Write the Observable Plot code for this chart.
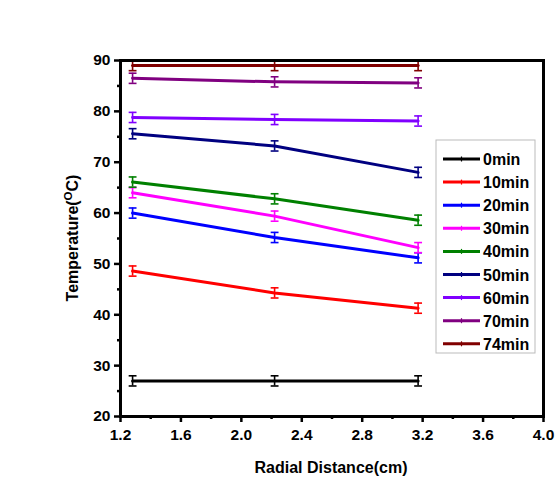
<!DOCTYPE html>
<html>
<head>
<meta charset="utf-8">
<script src="https://cdn.jsdelivr.net/npm/d3@7"></script>
<script src="https://cdn.jsdelivr.net/npm/@observablehq/plot@0.6"></script>
<style>
  html, body { margin: 0; padding: 0; background: #fff; }
  #chart { position: relative; width: 557px; height: 481px; }
  svg { font-family: "Liberation Sans", Arial, sans-serif; }
</style>
</head>
<body>
<div id="chart"></div>
<script>
// Radial positions (cm)
const distances = [1.28, 2.22, 3.17];
// Series names
const seriesNames = ["0min", "10min", "20min", "30min", "40min", "50min", "60min", "70min", "74min"];
const seriesColors = ["#000000", "#ff0000", "#0000ff", "#ff00ff", "#008000", "#000080", "#8000ff", "#800080", "#800000"];
// Temperature values (°C) per series at each distance
const t0min  = [27.0, 27.0, 27.0];
const t10min = [48.6, 44.3, 41.3];
const t20min = [60.0, 55.2, 51.2];
const t30min = [64.0, 59.4, 53.2];
const t40min = [66.1, 62.8, 58.6];
const t50min = [75.6, 73.2, 68.0];
const t60min = [78.8, 78.4, 78.1];
const t70min = [86.5, 85.8, 85.6];
const t74min = [89.0, 89.0, 89.0];
// Error (±°C)
const errors = [1.0, 1.0, 1.0];
const xTicks = [1.2, 1.6, 2.0, 2.4, 2.8, 3.2, 3.6, 4.0];
const xMinorTicks = [1.4, 1.8, 2.2, 2.6, 3.0, 3.4, 3.8];
const yTicks = [20, 30, 40, 50, 60, 70, 80, 90];
const yMinorTicks = [25, 35, 45, 55, 65, 75, 85];

const seriesValues = [t0min, t10min, t20min, t30min, t40min, t50min, t60min, t70min, t74min];
const data = [];
seriesNames.forEach((s, i) => {
  distances.forEach((d, j) => {
    data.push({series: s, x: d, y: seriesValues[i][j], e: errors[j]});
  });
});

const capHalf = 0.026;
const W = 557, H = 481;
const plot = Plot.plot({
  width: W,
  height: H,
  marginLeft: 120,
  marginRight: 14,
  marginTop: 60,
  marginBottom: 65,
  style: {fontFamily: "Liberation Sans, Arial, sans-serif", background: "transparent"},
  x: {domain: [1.2, 4.0]},
  y: {domain: [20, 90]},
  color: {domain: seriesNames, range: seriesColors},
  marks: [
    Plot.line(data, {x: "x", y: "y", z: "series", stroke: "series", strokeWidth: 3}),
    Plot.ruleX(data, {x: "x", y1: d => d.y - d.e, y2: d => d.y + d.e, stroke: "series", strokeWidth: 1.6}),
    Plot.link(data, {x1: d => d.x - capHalf, x2: d => d.x + capHalf, y1: d => d.y + d.e, y2: d => d.y + d.e, stroke: "series", strokeWidth: 1.6}),
    Plot.link(data, {x1: d => d.x - capHalf, x2: d => d.x + capHalf, y1: d => d.y - d.e, y2: d => d.y - d.e, stroke: "series", strokeWidth: 1.6}),
    Plot.axisX({ticks: xMinorTicks, tickSize: 3, text: null, strokeWidth: 2.5, label: null}),
    Plot.axisY({ticks: yMinorTicks, tickSize: 3, text: null, strokeWidth: 2.5, label: null}),
    Plot.axisX({ticks: xTicks, tickSize: 6, tickPadding: 6, strokeWidth: 2.5, tickFormat: d3.format(".1f"), fontSize: 15.5, fontWeight: "bold", fill: "#000", label: null}),
    Plot.axisY({ticks: yTicks, tickSize: 6, tickPadding: 4, strokeWidth: 2.5, fontSize: 15.5, fontWeight: "bold", fill: "#000", label: null}),
    Plot.frame({stroke: "#000", strokeWidth: 3})
  ]
});
document.getElementById("chart").appendChild(plot);

const svg = d3.select(plot);
// enforce tick label font
svg.selectAll('g[aria-label="x-axis tick label"], g[aria-label="y-axis tick label"]')
  .attr("font-size", 15.5).attr("font-weight", "bold").attr("fill", "#000")
  .selectAll("text").attr("font-size", 15.5).attr("font-weight", "bold");
const pLeft = 120, pRight = W - 14, pTop = 60, pBottom = H - 65;

// Axis titles
svg.append("text")
  .attr("x", 331)
  .attr("y", 473)
  .attr("text-anchor", "middle")
  .attr("font-size", 16)
  .attr("font-weight", "bold")
  .attr("fill", "#000")
  .text("Radial Distance(cm)");

const yl = svg.append("text")
  .attr("transform", `translate(78,${(pTop + pBottom) / 2}) rotate(-90)`)
  .attr("text-anchor", "middle")
  .attr("font-size", 16)
  .attr("font-weight", "bold")
  .attr("fill", "#000");
yl.append("tspan").text("Temperature(");
yl.append("tspan").attr("dy", -6).attr("font-size", 11.5).text("O");
yl.append("tspan").attr("dy", 6).text("C)");

// Legend
const lg = svg.append("g").attr("text-anchor", "start");
const lx = 436, ly = 140, lw = 99, lh = 213, rowH = 23.1;
lg.append("rect").attr("x", lx).attr("y", ly).attr("width", lw).attr("height", lh)
  .attr("fill", "#fff").attr("stroke", "#bbb").attr("stroke-width", 1);
seriesNames.forEach((s, i) => {
  const cy = 159 + i * rowH;
  lg.append("line").attr("x1", 443).attr("x2", 480).attr("y1", cy).attr("y2", cy)
    .attr("stroke", seriesColors[i]).attr("stroke-width", 3);
  lg.append("line").attr("x1", 461.5).attr("x2", 461.5).attr("y1", cy - 2.5).attr("y2", cy + 2.5)
    .attr("stroke", seriesColors[i]).attr("stroke-width", 1.2);
  lg.append("text").attr("x", 483).attr("y", cy + 6)
    .attr("text-anchor", "start")
    .attr("font-size", 16).attr("font-weight", "bold").attr("fill", "#000").text(s);
});
</script>
</body>
</html>
